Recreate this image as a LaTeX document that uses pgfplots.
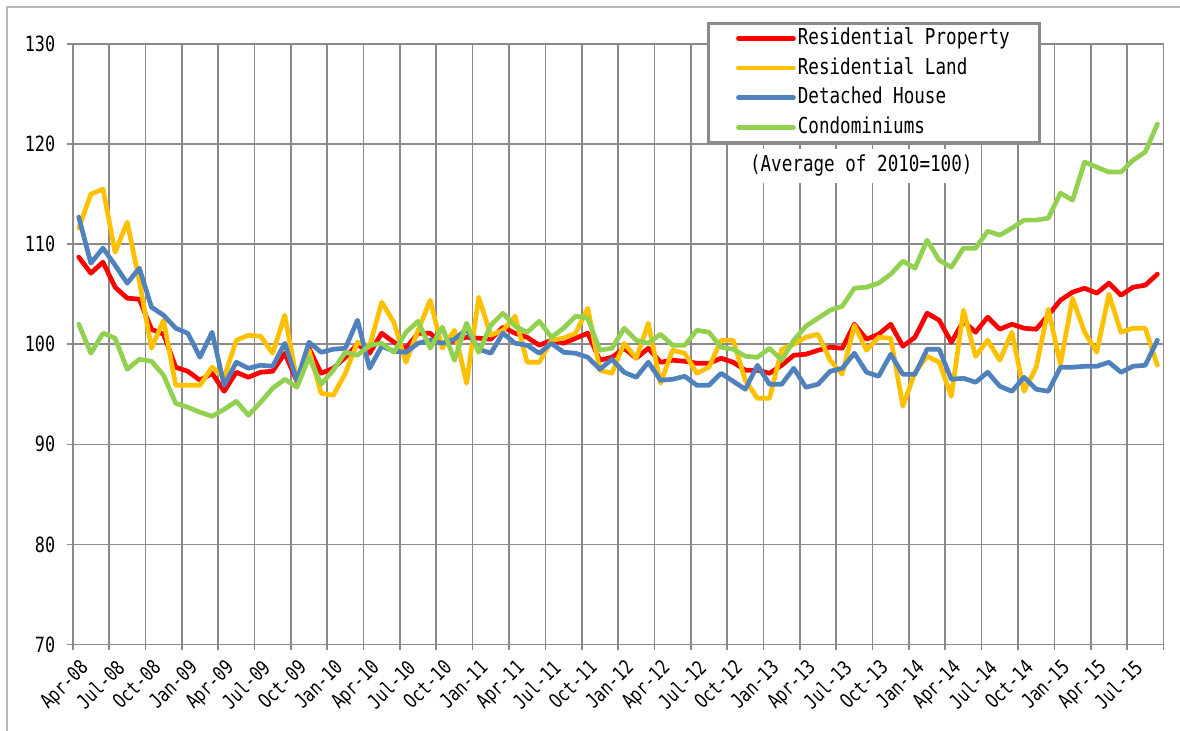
\documentclass[border=0pt]{standalone}
\usepackage{fontspec}
\setmainfont{DejaVu Sans Mono}[FakeStretch=0.8]
\usepackage{pgfplots}
\usepackage{pgfplotstable}
\pgfplotsset{compat=1.18}
\definecolor{cRP}{HTML}{FF0000}
\definecolor{cRL}{HTML}{FFC000}
\definecolor{cDH}{HTML}{4F81BD}
\definecolor{cCO}{HTML}{92D050}
\definecolor{gridgray}{HTML}{8A8A8A}
\pgfplotstableread{
i rp rl dh co
0 108.7 111.6 112.7 102.0
1 107.1 115.0 108.1 99.1
2 108.2 115.5 109.6 101.1
3 105.7 109.2 107.9 100.6
4 104.6 112.2 106.1 97.5
5 104.5 106.3 107.6 98.5
6 101.5 99.6 103.7 98.3
7 101.0 102.4 102.9 96.9
8 97.7 95.9 101.6 94.1
9 97.3 95.9 101.1 93.7
10 96.4 95.9 98.7 93.2
11 97.1 97.7 101.2 92.8
12 95.3 96.7 95.9 93.5
13 97.2 100.4 98.2 94.3
14 96.7 100.9 97.6 92.9
15 97.2 100.8 97.9 94.2
16 97.3 99.1 97.8 95.6
17 99.1 102.9 100.1 96.5
18 96.3 96.4 96.4 95.7
19 99.6 99.4 100.2 98.7
20 97.1 95.1 99.2 96.0
21 97.6 94.9 99.5 97.4
22 98.7 97.1 99.6 99.2
23 100.0 100.2 102.4 98.9
24 99.1 99.8 97.6 99.9
25 101.1 104.2 99.8 100.1
26 100.2 102.2 99.3 99.2
27 99.6 98.2 99.2 101.2
28 101.1 101.4 100.1 102.3
29 101.1 104.4 100.4 99.6
30 100.0 99.6 100.1 101.7
31 100.4 101.4 100.5 98.4
32 100.7 96.1 101.5 102.1
33 100.6 104.7 99.5 99.2
34 100.5 100.9 99.1 101.9
35 101.7 101.4 101.1 103.1
36 101.1 102.8 100.1 101.8
37 100.7 98.2 99.9 101.2
38 99.9 98.2 99.1 102.3
39 100.4 100.4 100.1 100.7
40 100.1 100.6 99.2 101.6
41 100.6 101.1 99.1 102.8
42 101.1 103.6 98.7 102.6
43 98.4 97.4 97.5 99.4
44 98.7 97.1 98.5 99.6
45 99.6 100.1 97.2 101.6
46 98.6 98.6 96.7 100.4
47 99.6 102.1 98.2 100.1
48 98.2 96.1 96.4 101.0
49 98.4 99.4 96.5 99.9
50 98.3 99.1 96.8 99.9
51 98.1 97.1 95.9 101.4
52 98.1 97.7 95.9 101.2
53 98.6 100.4 97.1 99.7
54 98.2 100.4 96.3 99.5
55 97.4 96.4 95.5 98.8
56 97.4 94.6 97.9 98.7
57 97.1 94.6 96.0 99.6
58 97.9 99.5 96.0 98.4
59 98.9 100.0 97.6 100.4
60 99.0 100.7 95.7 101.8
61 99.4 101.0 96.0 102.6
62 99.7 98.4 97.3 103.4
63 99.6 97.0 97.6 103.8
64 102.0 101.9 99.1 105.6
65 100.5 99.4 97.2 105.7
66 101.0 100.7 96.8 106.1
67 102.0 100.6 99.0 107.0
68 99.8 93.8 97.0 108.3
69 100.7 97.2 97.0 107.6
70 103.1 98.8 99.5 110.4
71 102.4 98.2 99.5 108.4
72 100.2 94.8 96.5 107.7
73 102.3 103.4 96.6 109.6
74 101.2 98.8 96.2 109.6
75 102.7 100.4 97.2 111.3
76 101.5 98.4 95.8 110.9
77 102.0 101.2 95.3 111.6
78 101.6 95.3 96.7 112.4
79 101.5 97.7 95.5 112.4
80 102.9 103.5 95.3 112.6
81 104.4 98.0 97.7 115.1
82 105.2 104.6 97.7 114.4
83 105.6 101.2 97.8 118.2
84 105.1 99.2 97.8 117.7
85 106.1 105.0 98.2 117.2
86 104.9 101.2 97.2 117.2
87 105.7 101.6 97.8 118.4
88 105.9 101.6 97.9 119.2
89 107.0 97.9 100.4 122.0
}\chartdata
\begin{document}
\begin{tikzpicture}[x=1bp,y=1bp]
\useasboundingbox (0,0) rectangle (1180,731);
\draw[gray!55, line width=1.2bp] (7,0) -- (7,724) -- (1180,724);
\begin{axis}[
  at={(72.7bp,86.5bp)}, anchor=south west,
  width=1090.8bp, height=600.5bp, scale only axis,
  xmin=-0.5, xmax=89.5, ymin=70, ymax=130,
  xtick={-0.5,2.5,...,89.5},
  xticklabels={Apr-08,Jul-08,Oct-08,Jan-09,Apr-09,Jul-09,Oct-09,Jan-10,Apr-10,Jul-10,Oct-10,Jan-11,Apr-11,Jul-11,Oct-11,Jan-12,Apr-12,Jul-12,Oct-12,Jan-13,Apr-13,Jul-13,Oct-13,Jan-14,Apr-14,Jul-14,Oct-14,Jan-15,Apr-15,Jul-15,{}},
  ytick={70,80,...,130},
  grid=major,
  grid style={gridgray, line width=1.6bp},
  axis line style={gridgray, line width=1.6bp},
  tick style={gridgray, line width=1.6bp},
  tick align=outside, tick pos=left, major tick length=6bp,
  /pgf/number format/assume math mode=true,
  xticklabel style={xshift=6.07bp, yshift=-3bp, rotate=45, anchor=north east, font=\fontsize{20bp}{22bp}\selectfont},
  yticklabel style={xshift=-8bp, font=\fontsize{21bp}{24bp}\selectfont},
  legend style={at={(0.5812,1.0366)}, anchor=north west, draw=gridgray, line width=3bp, fill=white,
    inner xsep=28bp, inner ysep=1bp, font=\fontsize{22bp}{24bp}\selectfont, row sep=1.6bp,
    nodes={inner xsep=2bp, inner ysep=3bp, text height=17bp, text depth=5bp}},
  legend cell align=left,
  legend image code/.code={\draw[#1] (0bp,0bp) -- (55bp,0bp);},
  every axis plot/.append style={line width=4.7bp, line join=round, line cap=round, no markers},
]
\addplot[cRP] table[x=i, y=rp] {\chartdata};
\addlegendentry{Residential Property}
\addplot[cRL] table[x=i, y=rl] {\chartdata};
\addlegendentry{Residential Land}
\addplot[cDH] table[x=i, y=dh] {\chartdata};
\addlegendentry{Detached House}
\addplot[cCO] table[x=i, y=co] {\chartdata};
\addlegendentry{Condominiums}
\node[fill=white, inner xsep=4bp, inner ysep=6bp, font=\fontsize{22bp}{24bp}\selectfont] at (axis cs:64.57,117.83) {(Average of 2010=100)};
\end{axis}
\end{tikzpicture}
\end{document}
